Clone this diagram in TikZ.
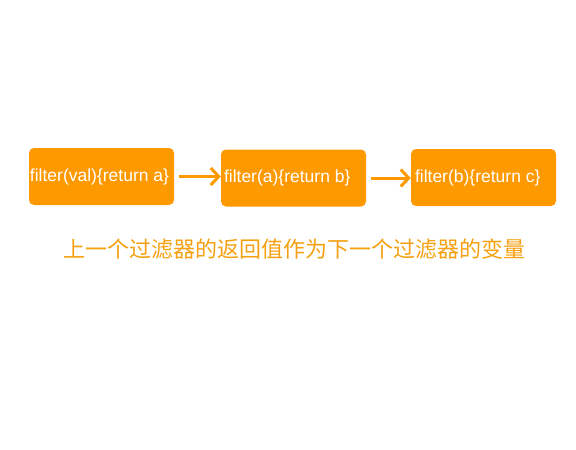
\documentclass[tikz,border=0pt]{standalone}
\usepackage{fontspec}
\setmainfont{Liberation Sans}
\newfontfamily\cjk{Noto Sans CJK SC}
\usepackage{tikz}
\usetikzlibrary{arrows.meta, positioning}
\definecolor{boxorange}{HTML}{FF9900}
\definecolor{textorange}{HTML}{F5A010}

\begin{document}
\begin{tikzpicture}[x=1pt, y=-1pt,
        filterbox/.style={fill=boxorange, draw=none, rounded corners=5pt,
            minimum height=57pt, text width=143pt, inner xsep=1pt, inner ysep=3pt,
            align=flush left, text=white, font=\fontsize{17.5}{20}\selectfont},
        passon/.style={draw=boxorange, line width=3pt, shorten <=5pt,
            -{Straight Barb[length=8pt, width=17pt]}}]
        % Fix the page size
        \useasboundingbox (0,0) rectangle (576,450);

        % Draw the filter boxes
        \node[filterbox] (fa) at (101.5,176.5) {filter(val)\{return a\}};
        \node[filterbox] (fb) at (293.5,178) {\hspace{2pt}filter(a)\{return b\}};
        \node[filterbox] (fc) at (483.5,177.5) {\hspace{3pt}filter(b)\{return c\}};

        % Draw the arrows between them
        \draw[passon] (fa.east) -- (fb.west |- fa.east);
        \draw[passon] (fb.east) -- (fc.west |- fb.east);

        % Add the caption below
        \node[text=textorange, font=\cjk\fontsize{22}{24}\selectfont] (note) at (294.5,249)
            {上一个过滤器的返回值作为下一个过滤器的变量};
\end{tikzpicture}
\end{document}
